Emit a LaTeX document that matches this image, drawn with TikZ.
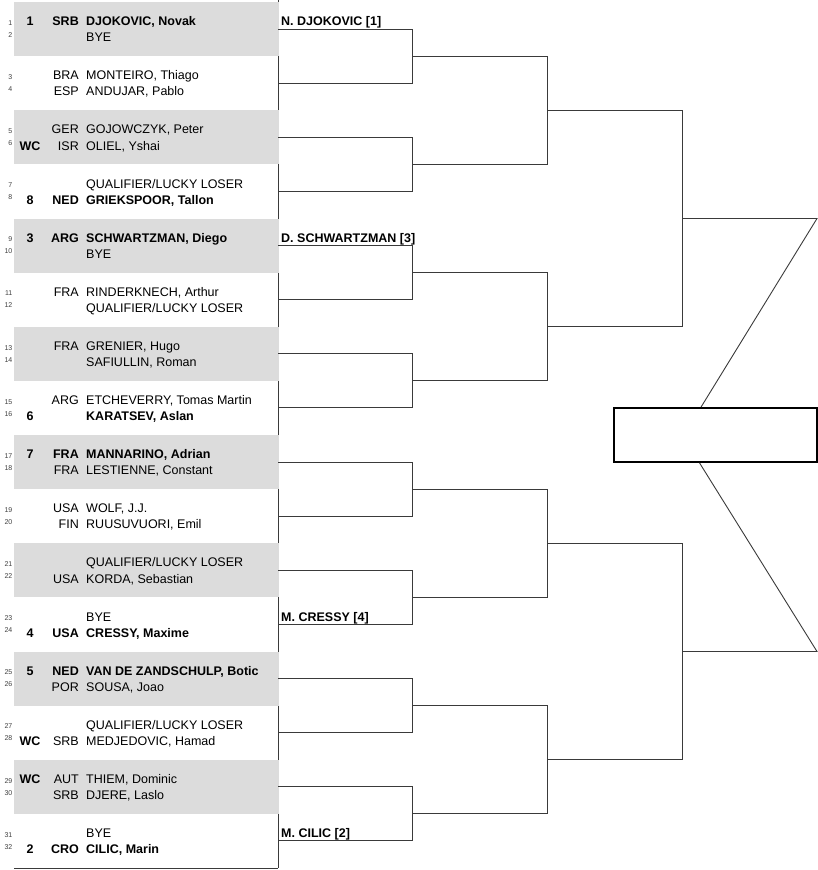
\documentclass[tikz,border=0pt]{standalone}
\usepackage{fontspec}
\setmainfont{Liberation Sans}
\usetikzlibrary{calc}
\definecolor{cus-gray}{RGB}{220,220,220}
\definecolor{cus-line}{RGB}{58,58,58}
\tikzset{
	plname/.style={anchor=base west,inner sep=0pt,font=\fontsize{12.5}{14}\selectfont},
	ctry/.style={anchor=base east,inner sep=0pt,font=\fontsize{12.5}{14}\selectfont},
	seedno/.style={anchor=base,inner sep=0pt,font=\fontsize{12.5}{14}\selectfont\bfseries},
	drawno/.style={anchor=base east,inner sep=0pt,font=\fontsize{7}{8}\selectfont,text=black!75},
	nrm/.style={},
	bld/.style={font=\fontsize{12.5}{14}\selectfont\bfseries},
	winlabel/.style={anchor=base west,inner sep=0pt,font=\fontsize{12.5}{14}\selectfont\bfseries},
	bracket/.style={draw=cus-line,line width=.9pt},
	finalbox/.style={draw,line width=1.7pt,minimum width=203pt,minimum height=54pt,inner sep=0pt}
}

\begin{document}
\begin{tikzpicture}[x=1pt,y=-1pt]
\useasboundingbox (0,0) rectangle (818,870);
\draw[cus-line,line width=.9pt] (278,0) -- (278,868);
\foreach \k in {0,2,...,14}{
	\fill[cus-gray] (14,{2+54.125*\k}) rectangle (278.6,{2+54.125*(\k+1)});
}
\draw[cus-line,line width=.9pt] (14,868) -- (278,868);
\foreach \n/\sd/\ct/\nm/\w in {
	1/1/SRB/{DJOKOVIC, Novak}/bld, 2///BYE/nrm,
	3//BRA/{MONTEIRO, Thiago}/nrm, 4//ESP/{ANDUJAR, Pablo}/nrm,
	5//GER/{GOJOWCZYK, Peter}/nrm, 6/WC/ISR/{OLIEL, Yshai}/nrm,
	7///{QUALIFIER/LUCKY LOSER}/nrm, 8/8/NED/{GRIEKSPOOR, Tallon}/bld,
	9/3/ARG/{SCHWARTZMAN, Diego}/bld, 10///BYE/nrm,
	11//FRA/{RINDERKNECH, Arthur}/nrm, 12///{QUALIFIER/LUCKY LOSER}/nrm,
	13//FRA/{GRENIER, Hugo}/nrm, 14///{SAFIULLIN, Roman}/nrm,
	15//ARG/{ETCHEVERRY, Tomas Martin}/nrm, 16/6//{KARATSEV, Aslan}/bld,
	17/7/FRA/{MANNARINO, Adrian}/bld, 18//FRA/{LESTIENNE, Constant}/nrm,
	19//USA/{WOLF, J.J.}/nrm, 20//FIN/{RUUSUVUORI, Emil}/nrm,
	21///{QUALIFIER/LUCKY LOSER}/nrm, 22//USA/{KORDA, Sebastian}/nrm,
	23///BYE/nrm, 24/4/USA/{CRESSY, Maxime}/bld,
	25/5/NED/{VAN DE ZANDSCHULP, Botic}/bld, 26//POR/{SOUSA, Joao}/nrm,
	27///{QUALIFIER/LUCKY LOSER}/nrm, 28/WC/SRB/{MEDJEDOVIC, Hamad}/nrm,
	29/WC/AUT/{THIEM, Dominic}/nrm, 30//SRB/{DJERE, Laslo}/nrm,
	31///BYE/nrm, 32/2/CRO/{CILIC, Marin}/bld}{
	\pgfmathtruncatemacro\k{(\n-1)/2}
	\pgfmathsetmacro\yb{2+54.125*\k+23.7+16.1*(1-mod(\n,2))}
	\pgfmathsetmacro\yd{2+54.125*\k+23.3+12*(1-mod(\n,2))}
	\node[drawno] (d\n) at (12.5,\yd) {\n};
	\node[seedno] (s\n) at (30,\yb) {\sd};
	\node[ctry,\w] (c\n) at (79,\yb) {\ct};
	\node[plname,\w] (p\n) at (86,\yb) {\nm};
}
\foreach \k in {0,...,15}{
	\coordinate (m0-\k) at (278,{29.06+54.125*\k});
}
\foreach \r/\p in {1/0,2/1,3/2}{
	\pgfmathtruncatemacro\nmax{16/2^\r-1}
	\foreach \j in {0,...,\nmax}{
		\pgfmathtruncatemacro\a{2*\j}
		\pgfmathtruncatemacro\b{2*\j+1}
		\coordinate (m\r-\j) at ({278+134.7*\r},{2+54.125*2^\r*(\j+.5)});
		\draw[bracket] (m\p-\a) -| (m\r-\j) |- (m\p-\b);
	}
}
\node[winlabel] (w1) at (281,25.7) {N. DJOKOVIC [1]};
\node[winlabel] (w3) at (281,{29.06+54.125*4-3.4}) {D. SCHWARTZMAN [3]};
\node[winlabel] (w4) at (281,{29.06+54.125*11-3.4}) {M. CRESSY [4]};
\node[winlabel] (w2) at (281,{29.06+54.125*15-3.4}) {M. CILIC [2]};
\node[finalbox] (final) at (715.5,435) {};
\coordinate (top) at (817,{2+54.125*8*.5});
\coordinate (bot) at (817,{2+54.125*8*1.5});
\draw[bracket] (m3-0) -- (top) -- ([xshift=-14.5pt]final.north);
\draw[bracket] (m3-1) -- (bot) -- ([xshift=-16pt]final.south);
\end{tikzpicture}
\end{document}
